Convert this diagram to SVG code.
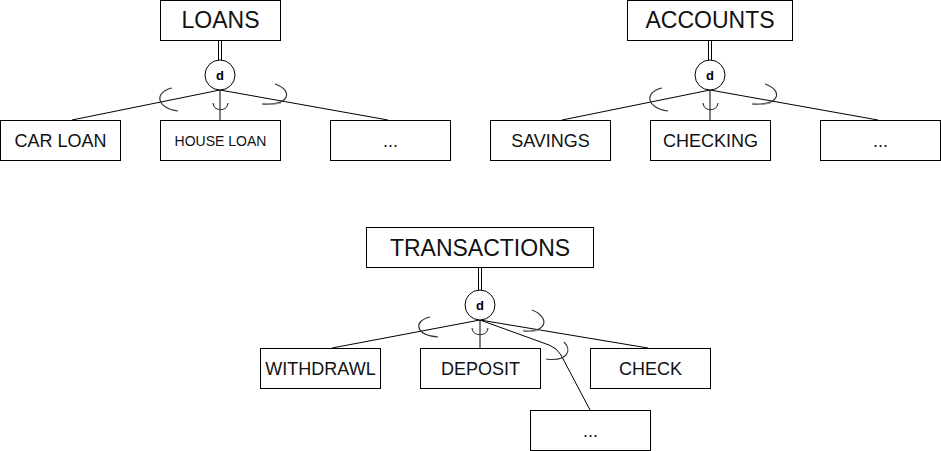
<svg xmlns="http://www.w3.org/2000/svg" width="941" height="451" viewBox="0 0 941 451">
<style>
.box{fill:#fff;stroke:#000;stroke-width:1}
.t{font-family:"Liberation Sans",Arial,sans-serif;fill:#111;text-anchor:middle}
.title{font-size:23px}
.child{font-size:18px}
.small{font-size:14px}
.d{font-family:"Liberation Sans",Arial,sans-serif;font-size:13px;font-weight:bold;text-anchor:middle;fill:#000}
.ln{fill:none;stroke:#000;stroke-width:1}
.arc{fill:none;stroke:#333;stroke-width:1.2}
.sk{fill:none;stroke:#999;stroke-width:1}
</style>
<rect width="941" height="451" fill="#fff"/>
<g id="connectors">
  <!-- LOANS -->
  <path class="ln" d="M218.5 40V60M221.5 40V60"/>
  <path class="ln" d="M220 90L72 120M220 90V120M220 90L388 120"/>
  <g transform="translate(220,90)">
    <path class="arc" d="M-48 -2C-66 2-64 18-42 21"/>
    <path class="arc" d="M-7 13C-6 22 7 22 8 13"/>
    <path class="arc" d="M55 -6C73 0 71 16 42 14"/>
    <path class="sk" d="M43 13Q52 16 61 13"/>
  </g>
  <!-- ACCOUNTS -->
  <path class="ln" d="M708.5 40V60M711.5 40V60"/>
  <path class="ln" d="M710 90L562 120M710 90V120M710 90L878 120"/>
  <g transform="translate(710,90)">
    <path class="arc" d="M-48 -2C-66 2-64 18-42 21"/>
    <path class="arc" d="M-7 13C-6 22 7 22 8 13"/>
    <path class="arc" d="M55 -6C73 0 71 16 42 14"/>
    <path class="sk" d="M43 13Q52 16 61 13"/>
  </g>
  <!-- TRANSACTIONS -->
  <path class="ln" d="M478.5 268V290M481.5 268V290"/>
  <path class="ln" d="M480 320L332 348M480 320V348M480 320L648 348"/>
  <path class="ln" d="M480 320L549 345Q557 348 561 355L590 410"/>
  <g transform="translate(480,320)">
    <path class="arc" d="M-50 -3C-67 1-65 15-42 17"/>
    <path class="arc" d="M-8 8C-7 17 7 17 8 8"/>
    <path class="arc" d="M52 -10C70 -3 68 13 43 11"/>
    <path class="sk" d="M43 10Q52 13 61 10"/>
    <path class="arc" d="M84 22C92 30 88 42 66 39"/>
  </g>
</g>
<g id="loans"><rect class="box" x="160.5" y="0.5" width="120" height="40"/><text class="t title" x="220.5" y="28">LOANS</text></g>
<g id="spec-loans"><circle class="box" cx="220" cy="75" r="15"/><text class="d" x="220" y="80">d</text></g>
<g id="car-loan"><rect class="box" x="0.5" y="120.5" width="120" height="40"/><text class="t child" x="60.5" y="147">CAR LOAN</text></g>
<g id="house-loan"><rect class="box" x="160.5" y="120.5" width="120" height="40"/><text class="t small" x="220.5" y="146">HOUSE LOAN</text></g>
<g id="loans-more"><rect class="box" x="330.5" y="120.5" width="120" height="40"/><text class="t child" x="390.5" y="147">...</text></g>

<g id="accounts"><rect class="box" x="627.5" y="0.5" width="165" height="40"/><text class="t title" x="710" y="28">ACCOUNTS</text></g>
<g id="spec-accounts"><circle class="box" cx="710" cy="75" r="15"/><text class="d" x="710" y="80">d</text></g>
<g id="savings"><rect class="box" x="490.5" y="120.5" width="120" height="40"/><text class="t child" x="550.5" y="147">SAVINGS</text></g>
<g id="checking"><rect class="box" x="650.5" y="120.5" width="120" height="40"/><text class="t child" x="710.5" y="147">CHECKING</text></g>
<g id="accounts-more"><rect class="box" x="820.5" y="120.5" width="120" height="40"/><text class="t child" x="880.5" y="147">...</text></g>

<g id="transactions"><rect class="box" x="366.5" y="227.5" width="227" height="40"/><text class="t title" x="480" y="256">TRANSACTIONS</text></g>
<g id="spec-transactions"><circle class="box" cx="480" cy="305" r="15"/><text class="d" x="480" y="310">d</text></g>
<g id="withdrawl"><rect class="box" x="260.5" y="348.5" width="120" height="40"/><text class="t child" x="320.5" y="375">WITHDRAWL</text></g>
<g id="deposit"><rect class="box" x="420.5" y="348.5" width="120" height="40"/><text class="t child" x="480.5" y="375">DEPOSIT</text></g>
<g id="check"><rect class="box" x="590.5" y="348.5" width="120" height="40"/><text class="t child" x="650.5" y="375">CHECK</text></g>
<g id="transactions-more"><rect class="box" x="530.5" y="410.5" width="120" height="40"/><text class="t child" x="590.5" y="437">...</text></g>
</svg>
